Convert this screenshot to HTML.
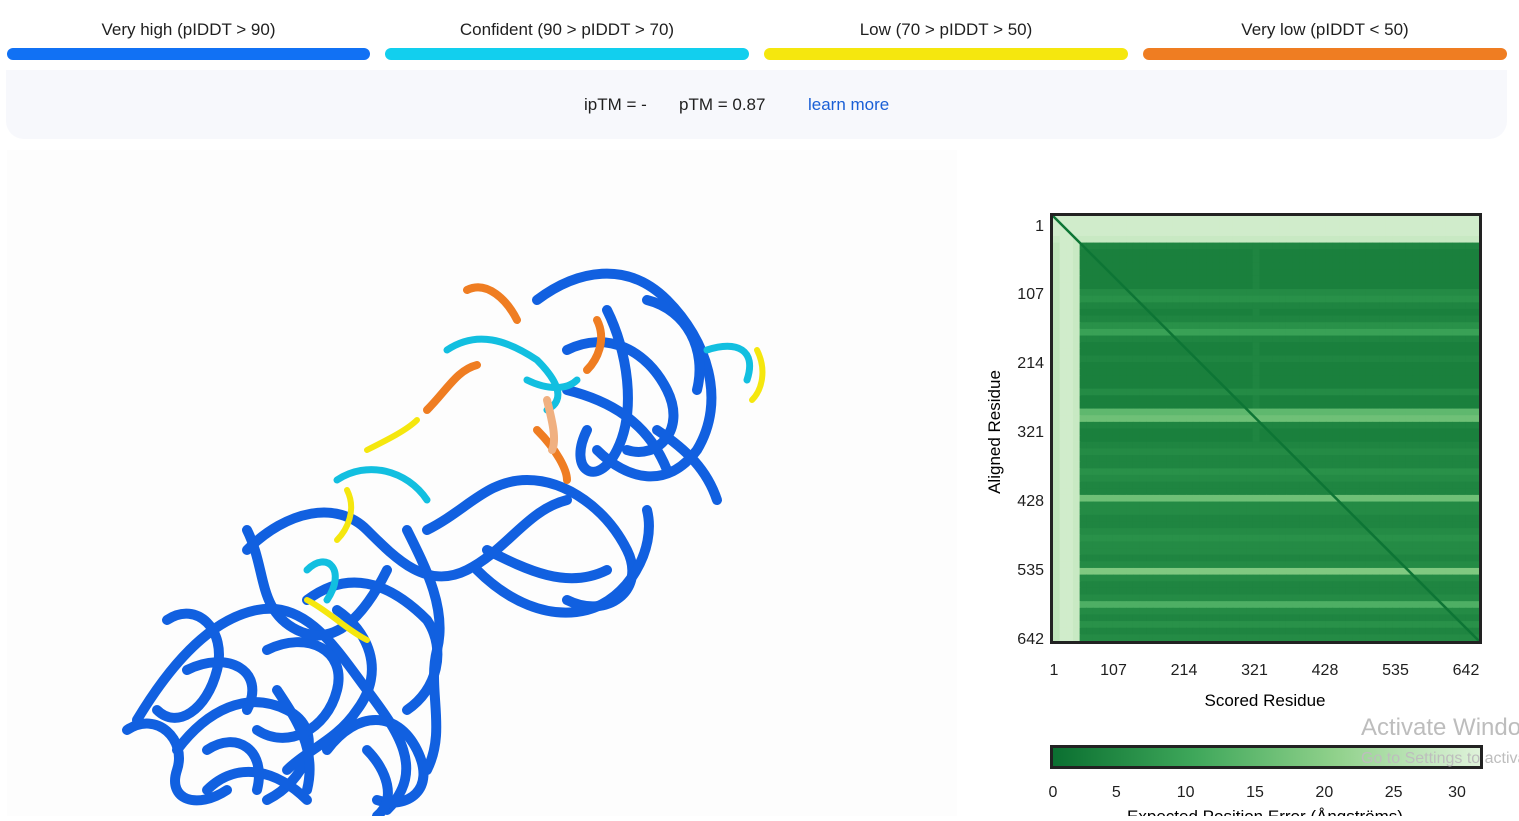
<!DOCTYPE html>
<html><head><meta charset="utf-8">
<style>
body{margin:0;width:1519px;height:816px;overflow:hidden;background:#fff;font-family:"Liberation Sans",sans-serif;color:#1f1f1f;position:relative}
.leg{position:absolute;top:20px;text-align:center;font-size:17px}
.leg .bar{height:12px;border-radius:6px;margin-top:8px}
#panel{position:absolute;left:6px;top:70px;width:1501px;height:69px;background:#f7f8fc;border-radius:0 0 18px 18px}
#panel span{position:absolute;top:25px;font-size:17px}
#struct{position:absolute;left:7px;top:150px;width:950px;height:666px;background:#fdfdfd}
#pae{position:absolute;left:0;top:0}
</style></head><body>
<div class="leg" style="left:7px;width:363px">Very high (pIDDT &gt; 90)<div class="bar" style="background:#1171f4"></div></div>
<div class="leg" style="left:385px;width:364px">Confident (90 &gt; pIDDT &gt; 70)<div class="bar" style="background:#12cfee"></div></div>
<div class="leg" style="left:764px;width:364px">Low (70 &gt; pIDDT &gt; 50)<div class="bar" style="background:#f5e70e"></div></div>
<div class="leg" style="left:1143px;width:364px">Very low (pIDDT &lt; 50)<div class="bar" style="background:#ef7d22"></div></div>
<div id="panel">
<span style="left:578px">ipTM = -</span>
<span style="left:673px">pTM = 0.87</span>
<span style="left:802px;color:#1a5fd6">learn more</span>
</div>
<div id="struct">
<svg width="950" height="666" fill="none" stroke-linecap="round" stroke-linejoin="round">
<g stroke="#1160e0" stroke-width="10">
<path d="M130 570 C160 520 200 470 250 460 C300 450 330 500 360 540 C390 580 420 620 380 660"/>
<path d="M170 600 C200 560 240 540 280 560 C320 580 300 630 260 650"/>
<path d="M240 400 C280 360 330 350 360 380 C390 410 420 440 460 420 C500 400 520 360 560 350"/>
<path d="M300 450 C340 420 380 430 420 470 C440 500 430 540 400 560"/>
<path d="M420 380 C460 360 480 330 520 330 C560 330 600 360 620 400 C640 440 600 470 560 450"/>
<path d="M470 420 C500 450 540 470 580 460 C620 450 650 400 640 360"/>
<path d="M530 150 C570 120 620 110 660 150 C700 190 720 250 690 300 C660 340 620 330 590 300"/>
<path d="M560 200 C600 180 640 200 660 240 C680 280 650 310 620 300"/>
<path d="M160 470 C190 450 220 480 210 520 C200 560 170 580 150 560"/>
<path d="M320 600 C350 560 390 560 410 600 C430 640 400 660 370 650"/>
<path d="M260 500 C300 480 340 500 330 540 C320 580 280 600 250 580"/>
<path d="M200 640 C230 610 270 620 300 650"/>
<path d="M120 580 C150 560 180 590 170 620 C160 650 190 660 220 640"/>
<path d="M240 380 C260 420 250 460 290 480 C330 500 360 460 380 420"/>
<path d="M330 460 C360 480 380 520 350 560 C330 590 300 600 280 620"/>
<path d="M400 380 C420 420 440 460 430 500 C420 540 440 580 420 620"/>
<path d="M180 520 C220 500 260 520 240 560"/>
<path d="M200 600 C230 580 260 600 250 640"/>
<path d="M480 400 C520 420 560 440 600 420"/>
<path d="M600 160 C620 200 630 260 610 300 C590 340 560 320 580 280"/>
<path d="M640 150 C680 160 700 200 690 240"/>
<path d="M560 240 C600 250 640 270 660 320"/>
<path d="M650 280 C680 300 700 320 710 350"/>
<path d="M360 600 C380 620 390 650 370 666"/>
<path d="M270 540 C290 570 310 600 300 640"/>
</g>
<g stroke="#12bfe0" stroke-width="7">
<path d="M440 200 C470 180 500 190 530 210 C550 230 560 250 540 260"/>
<path d="M330 330 C360 310 400 320 420 350"/>
<path d="M700 200 C730 190 750 200 740 230"/>
<path d="M300 420 C320 400 340 420 320 450"/>
<path d="M520 230 C540 240 560 240 570 230"/>
</g>
<g stroke="#ef7d22" stroke-width="8">
<path d="M460 140 C480 130 500 150 510 170"/>
<path d="M420 260 C440 240 450 220 470 215"/>
<path d="M590 170 C600 190 590 210 580 220"/>
<path d="M530 280 C550 300 560 320 560 330"/>
<path d="M540 250 C545 270 550 290 545 300" stroke="#f0b080"/>
</g>
<g stroke="#f5e70e" stroke-width="6">
<path d="M360 300 C380 290 400 280 410 270"/>
<path d="M340 340 C350 360 340 380 330 390"/>
<path d="M300 450 C320 460 340 480 360 490"/>
<path d="M750 200 C760 220 755 240 745 250"/>
</g>
</svg>
</div>
<svg id="pae" width="1519" height="816" style="pointer-events:none">
<g id="cells"></g>
<rect x="1051.5" y="214.5" width="429" height="428" fill="none" stroke="#222" stroke-width="3"/>
<g id="ticks" font-size="16" fill="#1f1f1f"></g>
<text x="1265" y="706" font-size="17" text-anchor="middle">Scored Residue</text>
<text transform="translate(1000,432) rotate(-90)" font-size="17" text-anchor="middle">Aligned Residue</text>
<defs><linearGradient id="cg"><stop offset="0" stop-color="#0a6f30"/><stop offset="0.33" stop-color="#3ea75a"/><stop offset="0.66" stop-color="#90d18b"/><stop offset="1" stop-color="#e0f3db"/></linearGradient></defs>
<rect x="1051.5" y="746.5" width="430" height="21" fill="url(#cg)" stroke="#222" stroke-width="3"/>
<g id="cticks" font-size="16" fill="#1f1f1f"></g>
<text x="1265" y="822" font-size="17" text-anchor="middle">Expected Position Error (Ångströms)</text>
<text x="1361" y="735" font-size="24" fill="#bdbdbd">Activate Windows</text>
<text x="1361" y="763" font-size="16" fill="#bdbdbd">Go to Settings to activate</text>
</svg>
<script>
const residueTicks=[1,107,214,321,428,535,642];
const colorTicks=[0,5,10,15,20,25,30];
// per-residue-bin (10 residues each) PAE profile for rows (aligned) and columns (scored)
const rowErr=[28,28,28,27,4,3,3,3,3,3,3,5,6,4,3,4,6,9,4,3,3,4,3,3,3,3,5,3,3,14,16,4,3,3,4,5,4,4,6,5,4,4,16,5,5,4,4,5,6,5,5,4,5,18,5,4,4,5,12,5,4,6,4,5];
const colErr=[26,28,28,27,3,3,3,3,3,3,3,3,3,3,3,3,3,3,3,3,3,3,3,3,3,3,3,3,3,3,4,3,3,3,3,3,3,3,3,3,3,3,3,3,3,3,3,3,3,3,3,3,3,3,3,3,3,3,3,3,3,3,3,3];
const N=642,X0=1053,Y0=216,W=426,H=425;
const xs=r=>X0+(r-1)/(N-1)*W, ys=r=>Y0+(r-1)/(N-1)*H;
function col(v){const s=[[0,[10,111,48]],[10,[62,167,90]],[20,[144,209,139]],[30,[224,243,219]]];v=Math.max(0,Math.min(30,v));for(let i=0;i<3;i++){if(v<=s[i+1][0]){const t=(v-s[i][0])/10;const c=s[i][1].map((a,k)=>Math.round(a+(s[i+1][1][k]-a)*t));return`rgb(${c})`;}}}
const ns="http://www.w3.org/2000/svg";
const g=document.getElementById('cells');
const nb=rowErr.length,bw=W/nb,bh=H/nb;
for(let i=0;i<nb;i++)for(let j=0;j<colErr.length;j++){
 let v=Math.max(rowErr[i],colErr[j]);
 const r=document.createElementNS(ns,'rect');
 
 
 r.setAttribute('x',X0+j*bw);r.setAttribute('y',Y0+i*bh);r.setAttribute('width',bw+0.6);r.setAttribute('height',bh+0.6);r.setAttribute('fill',col(v));g.appendChild(r);}
const dl=document.createElementNS(ns,'line');


dl.setAttribute('x1',xs(1));dl.setAttribute('y1',ys(1));dl.setAttribute('x2',xs(N));dl.setAttribute('y2',ys(N));dl.setAttribute('stroke','#0d7535');dl.setAttribute('stroke-width','2.5');g.appendChild(dl);
const tg=document.getElementById('ticks');
residueTicks.forEach(t=>{
 const a=document.createElementNS(ns,'text');
 
 
 a.setAttribute('x',1044);a.setAttribute('y',(t===1?225:224+t/642*414)+6);a.setAttribute('text-anchor','end');a.textContent=t;tg.appendChild(a);
 const b=document.createElementNS(ns,'text');
 
 
 b.setAttribute('x',t===1?1054:1043+t/642*423);b.setAttribute('y',675);b.setAttribute('text-anchor','middle');b.textContent=t;tg.appendChild(b);});
const cg=document.getElementById('cticks');
colorTicks.forEach(t=>{
 const a=document.createElementNS(ns,'text');
 
 
 a.setAttribute('x',1053+t/30*404+(t>0&&t<30?(t-15)*0.4:0));a.setAttribute('y',797);a.setAttribute('text-anchor','middle');a.textContent=t;cg.appendChild(a);});
</script>
</body></html>
